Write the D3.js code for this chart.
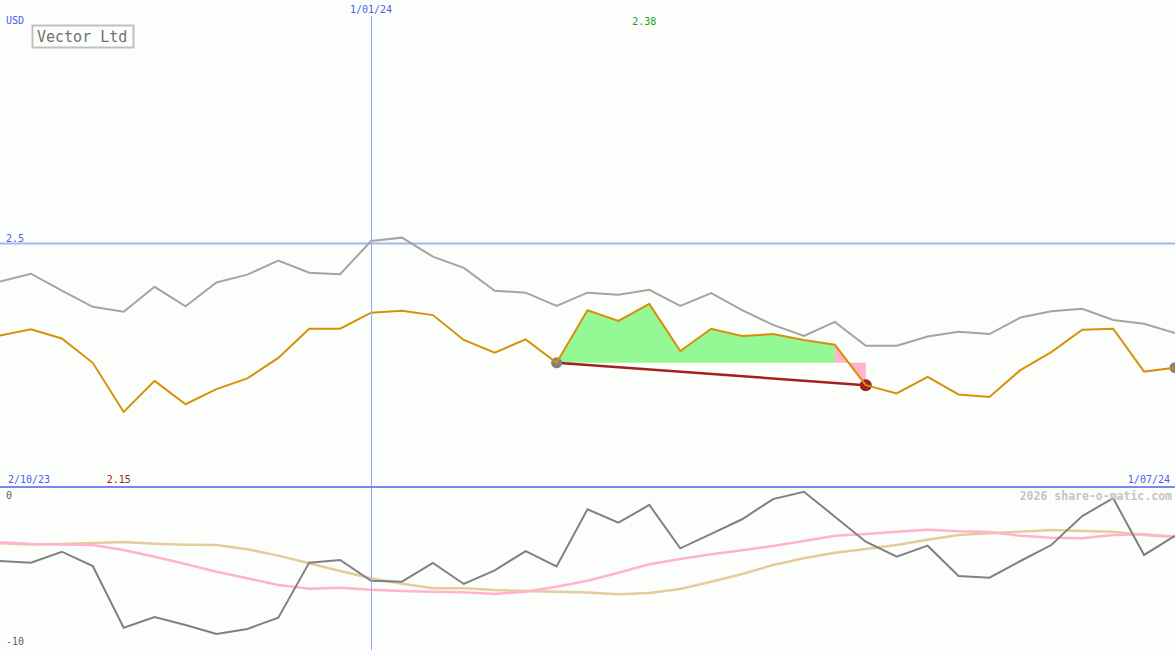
<!DOCTYPE html>
<html><head><meta charset="utf-8">
<script src="https://cdn.jsdelivr.net/npm/d3@7"></script>
<style>
html,body{margin:0;padding:0;background:#fcfefc;}
svg{display:block;}
text{font-family:"DejaVu Sans Mono",monospace;}
</style></head>
<body>
<svg id="chart" width="1175" height="650"></svg>
<script>
// ---- data ----
const title = "Vector Ltd";
const currency = "USD";
const startLabel = "2/10/23";
const endLabel = "1/07/24";
const gridDateLabel = "1/01/24";
const gridDateIndex = 12;
const priceGrid = [2.5];
const lowerTicks = [0, -10];
const watermark = "2026 share-o-matic.com";

const close = [2.311,2.324,2.305,2.255,2.154,2.218,2.170,2.201,2.223,2.265,2.325,2.325,2.358,2.362,2.353,2.302,2.276,2.303,2.255,2.363,2.341,2.376,2.279,2.325,2.310,2.314,2.302,2.292,2.209,2.192,2.226,2.190,2.185,2.240,2.277,2.323,2.325,2.237,2.245];
const upper = [2.422,2.438,2.403,2.370,2.360,2.411,2.371,2.420,2.436,2.465,2.440,2.437,2.505,2.512,2.473,2.450,2.403,2.399,2.372,2.399,2.395,2.405,2.372,2.398,2.363,2.333,2.310,2.339,2.290,2.290,2.309,2.319,2.314,2.348,2.361,2.366,2.343,2.335,2.316];
const osc = [-4.54,-4.64,-3.97,-4.85,-8.63,-7.98,-8.47,-9.02,-8.71,-8.02,-4.64,-4.48,-5.75,-5.81,-4.66,-5.95,-5.11,-3.93,-4.87,-1.37,-2.19,-1.10,-3.76,-2.88,-1.98,-0.74,-0.29,-1.82,-3.36,-4.28,-3.60,-5.46,-5.56,-4.54,-3.56,-1.78,-0.69,-4.17,-2.99];
const oscFast = [-3.39,-3.50,-3.52,-3.56,-3.87,-4.28,-4.72,-5.20,-5.60,-6.01,-6.24,-6.18,-6.30,-6.38,-6.42,-6.46,-6.56,-6.42,-6.12,-5.75,-5.26,-4.74,-4.42,-4.13,-3.88,-3.62,-3.31,-2.99,-2.88,-2.74,-2.62,-2.72,-2.76,-2.99,-3.11,-3.15,-2.94,-2.90,-3.05];
const oscSlow = [-3.45,-3.52,-3.50,-3.44,-3.37,-3.48,-3.54,-3.56,-3.82,-4.21,-4.68,-5.15,-5.60,-5.93,-6.21,-6.21,-6.32,-6.38,-6.42,-6.48,-6.58,-6.50,-6.26,-5.81,-5.34,-4.79,-4.37,-4.03,-3.80,-3.56,-3.23,-2.94,-2.84,-2.74,-2.64,-2.70,-2.74,-2.94,-3.07];
const gainStart = 18, gainEnd = 27, lossEnd = 28;
const trendStart = 18, trendEnd = 28;
const lastIndex = 38;

// ---- layout ----
const W = 1175, H = 650, split = 487;
const svg = d3.select("#chart");
const x = d3.scaleLinear().domain([0, close.length - 1]).range([0, W]);
const y = d3.scaleLinear().domain([2.0, 3.0]).range([split, 0]);
const y2 = d3.scaleLinear().domain([-10, 0]).range([650, split]);

const defs = svg.append("defs");
defs.append("clipPath").attr("id","cTop").append("rect").attr("x",0).attr("y",0).attr("width",W).attr("height",split);
defs.append("clipPath").attr("id","cBot").append("rect").attr("x",0).attr("y",split).attr("width",W).attr("height",H-split);

const gTop = svg.append("g").attr("clip-path","url(#cTop)");
const gBot = svg.append("g").attr("clip-path","url(#cBot)");

// grid
gTop.selectAll("line.pg").data(priceGrid).join("line")
  .attr("x1",0).attr("x2",W).attr("y1",d=>y(d)).attr("y2",d=>y(d))
  .attr("stroke","#a4b4f4").attr("stroke-width",2);
svg.append("line").attr("x1",Math.round(x(gridDateIndex))+0.5).attr("x2",Math.round(x(gridDateIndex))+0.5)
  .attr("y1",16).attr("y2",H).attr("stroke","#94a6ff").attr("stroke-width",1)
  .attr("shape-rendering","crispEdges");

// areas
const baseV = close[gainStart];
const area = d3.area().x(i=>x(i)).y0(y(baseV)).y1(i=>y(close[i]));
gTop.append("path").datum(d3.range(gainStart, gainEnd+1)).attr("d",area).attr("fill","#94f894");
gTop.append("path").datum(d3.range(gainEnd, lossEnd+1)).attr("d",area).attr("fill","#ffb4cc");

// upper band line
const line = arr => d3.line().x((d,i)=>x(i)).y(d=>y(d))(arr);
gTop.append("path").attr("d",line(upper)).attr("fill","none").attr("stroke","#a4a4a4").attr("stroke-width",2);

// trend
gTop.append("line").attr("x1",x(trendStart)).attr("y1",y(close[trendStart]))
  .attr("x2",x(trendEnd)).attr("y2",y(close[trendEnd]))
  .attr("stroke","#a02020").attr("stroke-width",2.5);
gTop.append("circle").attr("cx",x(trendStart)).attr("cy",y(close[trendStart])).attr("r",5.5).attr("fill","#808080");
gTop.append("circle").attr("cx",x(trendEnd)).attr("cy",y(close[trendEnd])).attr("r",6).attr("fill","#a02020");
gTop.append("circle").attr("cx",x(lastIndex)).attr("cy",y(close[lastIndex])).attr("r",5.5).attr("fill","#808080");

// close line
gTop.append("path").attr("d",line(close)).attr("fill","none").attr("stroke","#d8900a").attr("stroke-width",2);

// lower panel
const line2 = arr => d3.line().x((d,i)=>x(i)).y(d=>y2(d))(arr);
gBot.append("path").attr("d",line2(oscSlow)).attr("fill","none").attr("stroke","#e4cc9c").attr("stroke-width",2.5);
gBot.append("path").attr("d",line2(oscFast)).attr("fill","none").attr("stroke","#ffb4cc").attr("stroke-width",2.5);
gBot.append("path").attr("d",line2(osc)).attr("fill","none").attr("stroke","#808080").attr("stroke-width",2);

// divider
svg.append("line").attr("x1",0).attr("x2",W).attr("y1",split).attr("y2",split).attr("stroke","#7888ec").attr("stroke-width",2);

// texts
const blue = "#4c5cf0";
const T = (t,xx,yy,opts={}) => svg.append("text").text(t).attr("x",xx).attr("y",yy)
  .attr("font-size",opts.size||10).attr("fill",opts.fill||blue)
  .attr("text-anchor",opts.anchor||"start").attr("font-weight",opts.weight||"normal");
T(currency,6,24);
T(gridDateLabel,x(gridDateIndex),13,{anchor:"middle"});
priceGrid.forEach(v=>T(String(v),6,y(v)-2));
T(startLabel,8,483);
T(endLabel,1170,483,{anchor:"end"});
const iMax = d3.maxIndex(close), iMin = d3.minIndex(close);
T(d3.max(close).toFixed(2),x(iMax)-5,25,{anchor:"middle",fill:"#20a020"});
T(d3.min(close).toFixed(2),x(iMin)-5,483,{anchor:"middle",fill:"#a82020"});
lowerTicks.forEach(v=>T(String(v),6,v===0?y2(v)+12:y2(v)-5,{fill:"#606060"}));
T(watermark,1172,500,{anchor:"end",fill:"#c4c4c4",size:11.5,weight:"bold"});

// title box
svg.append("rect").attr("x",32.5).attr("y",25.5).attr("width",101).attr("height",22)
  .attr("fill","#fcfefc").attr("stroke","#c0c0c0").attr("stroke-width",2);
T(title,37,42,{size:15,fill:"#707070"});
</script>
</body></html>
